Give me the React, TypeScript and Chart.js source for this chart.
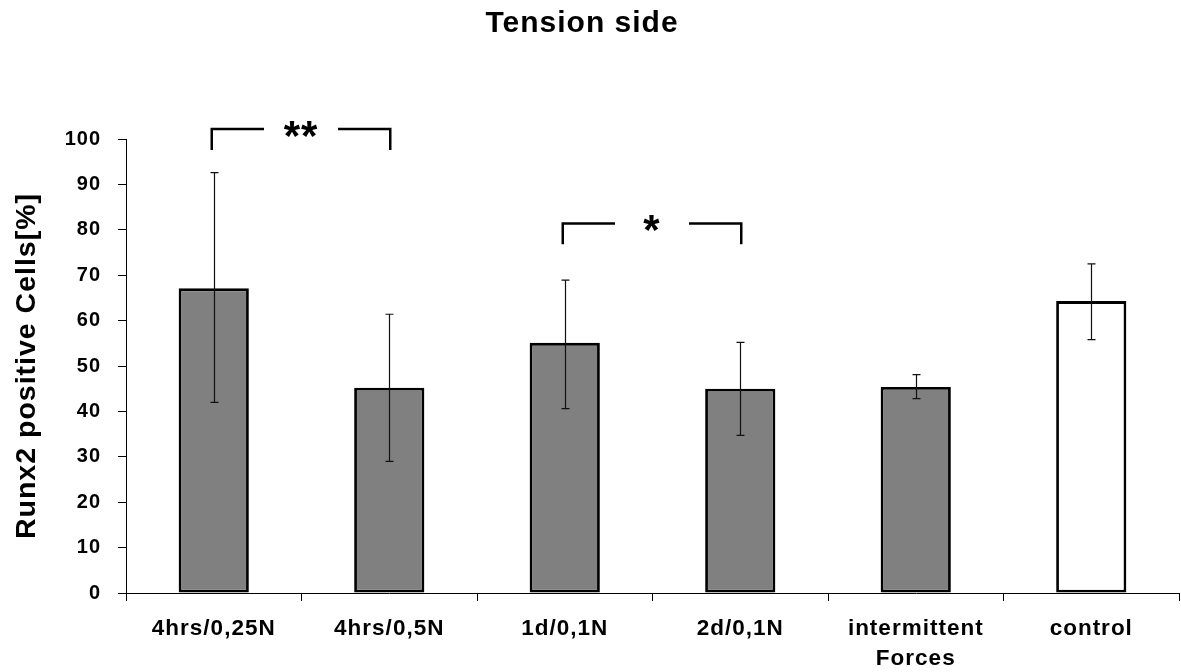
import React, { useEffect, useRef } from "react";
import { Chart, registerables } from "chart.js";

Chart.register(...registerables);

const chartTitle = "Tension side";
const yAxisTitle = "Runx2 positive Cells[%]";
const categories: string[][] = [
  ["4hrs/0,25N"],
  ["4hrs/0,5N"],
  ["1d/0,1N"],
  ["2d/0,1N"],
  ["intermittent", "Forces"],
  ["control"],
];
const means = [67.1, 45.2, 55.1, 45.0, 45.4, 64.3];
const errUpper = [92.6, 61.4, 68.9, 55.2, 48.1, 72.5];
const errLower = [42.0, 29.0, 40.6, 34.7, 42.8, 55.8];
const barColors = ["#808080", "#808080", "#808080", "#808080", "#808080", "#ffffff"];
const yMin = 0;
const yMax = 100;
const yStep = 10;
const brackets = [
  { from: 0, to: 1, top: 102.2, bottom: 97.6, label: "**" },
  { from: 2, to: 3, top: 81.4, bottom: 76.8, label: "*" },
];

const FONT = '"Liberation Sans", Arial, sans-serif';

const spacingPlugin = {
  id: "spacing",
  beforeUpdate(chart: any) {
    chart.ctx.letterSpacing = "1px";
  },
  beforeDraw(chart: any) {
    chart.ctx.letterSpacing = "1px";
  },
};

const titlePlugin = {
  id: "customTitle",
  afterDraw(chart: any) {
    const ctx = chart.ctx;
    ctx.save();
    ctx.font = `bold 30px ${FONT}`;
    ctx.letterSpacing = "1px";
    ctx.fillStyle = "#000";
    ctx.textAlign = "center";
    ctx.textBaseline = "alphabetic";
    ctx.fillText(chartTitle, 582, 32);
    ctx.restore();
  },
};

const errorBarPlugin = {
  id: "errorBars",
  afterDatasetsDraw(chart: any) {
    const ctx = chart.ctx;
    const y = chart.scales.y;
    const meta = chart.getDatasetMeta(0);
    ctx.save();
    ctx.strokeStyle = "#111";
    ctx.lineWidth = 1.2;
    meta.data.forEach((bar: any, i: number) => {
      const cx = Math.round(bar.x) + 0.5;
      const yt = y.getPixelForValue(errUpper[i]);
      const yb = y.getPixelForValue(errLower[i]);
      ctx.beginPath();
      ctx.moveTo(cx, yt);
      ctx.lineTo(cx, yb);
      ctx.moveTo(cx - 4, yt);
      ctx.lineTo(cx + 4, yt);
      ctx.moveTo(cx - 4, yb);
      ctx.lineTo(cx + 4, yb);
      ctx.stroke();
    });
    ctx.restore();
  },
};

const bracketPlugin = {
  id: "brackets",
  afterDraw(chart: any) {
    const ctx = chart.ctx;
    const x = chart.scales.x;
    const y = chart.scales.y;
    ctx.save();
    ctx.strokeStyle = "#000";
    ctx.lineWidth = 2.5;
    ctx.lineCap = "butt";
    brackets.forEach((b) => {
      const x1 = x.getPixelForValue(b.from) - 2;
      const x2 = x.getPixelForValue(b.to) + 1;
      const yt = y.getPixelForValue(b.top);
      const yb = y.getPixelForValue(b.bottom);
      const cx = (x1 + x2) / 2;
      const gap = 37;
      ctx.beginPath();
      ctx.moveTo(x1, yb);
      ctx.lineTo(x1, yt);
      ctx.lineTo(cx - gap, yt);
      ctx.moveTo(cx + gap, yt);
      ctx.lineTo(x2, yt);
      ctx.lineTo(x2, yb);
      ctx.stroke();
      ctx.font = `bold 42px ${FONT}`;
      ctx.letterSpacing = "1px";
      ctx.fillStyle = "#000";
      ctx.textAlign = "center";
      ctx.textBaseline = "alphabetic";
      ctx.fillText(b.label, cx, yt - 3 + 0.57 * 42);
    });
    ctx.restore();
  },
};

export default function App() {
  const canvasRef = useRef<HTMLCanvasElement | null>(null);

  useEffect(() => {
    if (!canvasRef.current) return;
    Chart.defaults.font.family = FONT;
    Chart.defaults.color = "#000";
    const chart = new Chart(canvasRef.current, {
      type: "bar",
      data: {
        labels: categories as any,
        datasets: [
          {
            data: means,
            backgroundColor: barColors,
            borderColor: "#000",
            borderWidth: 2.8,
            borderSkipped: false,
            barPercentage: 0.4,
            categoryPercentage: 1.0,
          },
        ],
      },
      options: {
        responsive: false,
        animation: false,
        devicePixelRatio: 1,
        layout: { padding: { top: 139, left: 0, right: 2, bottom: 0 } },
        plugins: {
          legend: { display: false },
          tooltip: { enabled: false },
          title: { display: false },
        },
        scales: {
          x: {
            afterFit(scale: any) {
              scale.height = 79;
            },
            grid: {
              display: true,
              offset: true,
              drawOnChartArea: false,
              drawTicks: true,
              tickLength: 8,
              color: "#000",
              tickColor: "#000",
            },
            border: { display: true, color: "#000", width: 1 },
            ticks: {
              color: "#000",
              padding: 13,
              maxRotation: 0,
              autoSkip: false,
              font: { size: 22.5, weight: "bold", lineHeight: 1.33 },
            },
          },
          y: {
            min: yMin,
            max: yMax,
            afterFit(scale: any) {
              scale.width = 126;
            },
            grid: {
              display: true,
              drawOnChartArea: false,
              drawTicks: true,
              tickLength: 8,
              color: "#000",
              tickColor: "#000",
            },
            border: { display: true, color: "#000", width: 1 },
            ticks: {
              stepSize: yStep,
              color: "#000",
              padding: 17,
              font: { size: 20, weight: "bold" },
            },
            title: {
              display: true,
              text: yAxisTitle,
              color: "#000",
              font: { size: 28.5, weight: "bold" },
              padding: { top: 10, bottom: 0 },
            },
          },
        },
      },
      plugins: [spacingPlugin, errorBarPlugin, bracketPlugin, titlePlugin],
    });
    return () => chart.destroy();
  }, []);

  return (
    <div style={{ position: "fixed", left: 0, top: 0, width: 1181, height: 672, background: "#fff" }}>
      <canvas ref={canvasRef} width={1181} height={672} style={{ display: "block" }} />
    </div>
  );
}
